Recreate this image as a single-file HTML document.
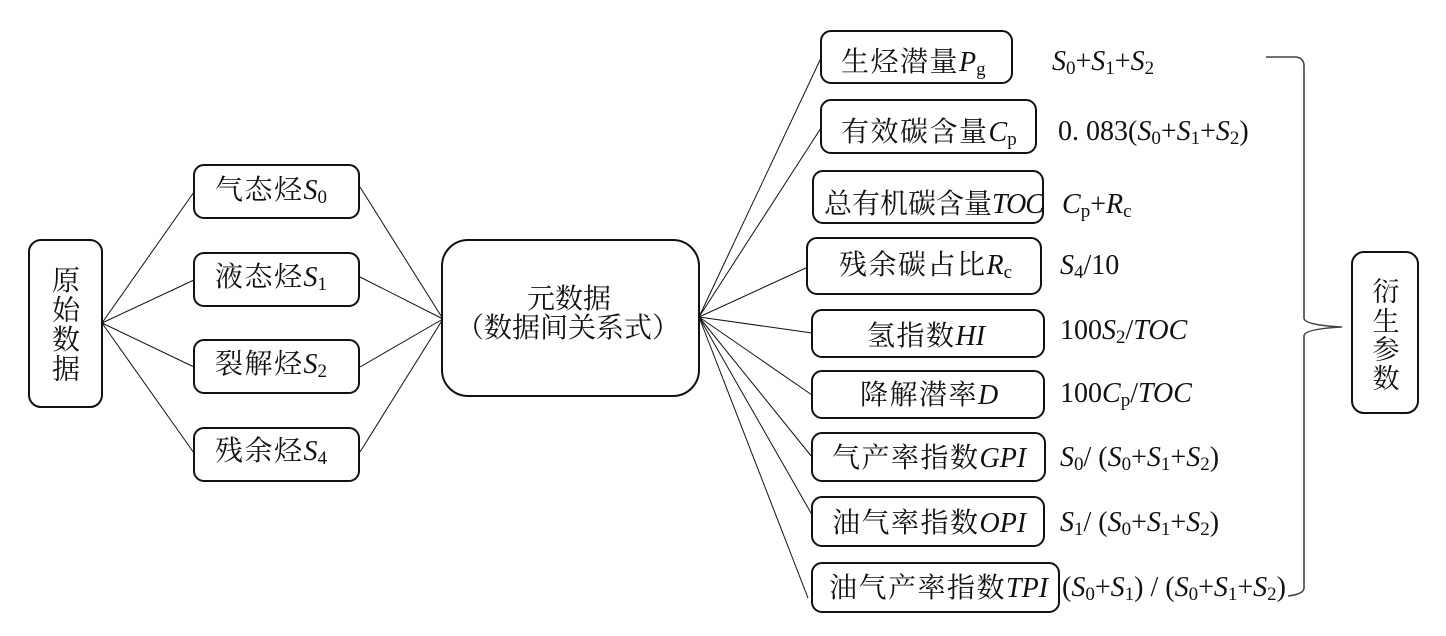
<!DOCTYPE html>
<html><head><meta charset="utf-8"><style>
html,body{margin:0;padding:0;background:#fff;}
svg{display:block;}
.t{font-family:"Liberation Serif","Noto Serif CJK SC",serif;font-size:28px;fill:#111;}
.r{letter-spacing:1.5px;}
.i{font-style:italic;letter-spacing:0;}
.s{font-size:19px;font-style:normal;letter-spacing:0;}
.f{font-family:"Liberation Serif","Noto Serif CJK SC",serif;font-size:28px;fill:#111;}
</style></head><body>
<svg width="1446" height="636" viewBox="0 0 1446 636" xmlns="http://www.w3.org/2000/svg">
<g stroke="#111" stroke-width="1" fill="none">
<line x1="102" y1="323" x2="194" y2="192"/>
<line x1="102" y1="323" x2="194" y2="280"/>
<line x1="102" y1="323" x2="194" y2="367"/>
<line x1="102" y1="323" x2="194" y2="453"/>
<line x1="360" y1="187" x2="443" y2="319"/>
<line x1="360" y1="277" x2="443" y2="319"/>
<line x1="360" y1="367" x2="443" y2="319"/>
<line x1="360" y1="452" x2="443" y2="319"/>
<line x1="699" y1="317" x2="821" y2="58"/>
<line x1="699" y1="317" x2="821" y2="128"/>
<line x1="699" y1="317" x2="808" y2="267"/>
<line x1="699" y1="317" x2="812" y2="333"/>
<line x1="699" y1="317" x2="812" y2="395"/>
<line x1="699" y1="317" x2="812" y2="457"/>
<line x1="699" y1="317" x2="815" y2="520"/>
<line x1="699" y1="317" x2="808" y2="598"/>
</g>
<path d="M1266,57 L1296,57 Q1304,58 1304,66 L1304,318 Q1304,325 1342,327 Q1304,329 1304,336 L1304,588 Q1304,594 1288,596" stroke="#444" stroke-width="1.6" fill="none"/>
<g fill="#fff" stroke="#111" stroke-width="2">
<rect x="29" y="240" width="73" height="167" rx="12"/>
<rect x="194" y="165" width="165" height="53" rx="10"/>
<rect x="194" y="253" width="165" height="53" rx="10"/>
<rect x="194" y="340" width="165" height="53" rx="10"/>
<rect x="194" y="428" width="165" height="53" rx="10"/>
<rect x="442" y="240" width="257" height="156" rx="26"/>
<rect x="821" y="31" width="191" height="52" rx="10"/>
<rect x="821" y="100" width="215" height="53" rx="10"/>
<rect x="813" y="171" width="230" height="52" rx="10"/>
<rect x="807" y="238" width="234" height="56" rx="10"/>
<rect x="812" y="310" width="232" height="47" rx="10"/>
<rect x="812" y="371" width="232" height="47" rx="10"/>
<rect x="812" y="433" width="233" height="48" rx="10"/>
<rect x="812" y="497" width="232" height="49" rx="10"/>
<rect x="812" y="563" width="247" height="49" rx="10"/>
<rect x="1352" y="252" width="66" height="161" rx="12"/>
</g>

<!-- left -->
<text class="t" x="66" y="290" text-anchor="middle">原</text>
<text class="t" x="66" y="319.5" text-anchor="middle">始</text>
<text class="t" x="66" y="349" text-anchor="middle">数</text>
<text class="t" x="66" y="378.5" text-anchor="middle">据</text>

<text class="t r" x="215" y="199">气态烃<tspan class="i">S</tspan><tspan class="s" dy="4">0</tspan></text>
<text class="t r" x="215" y="286">液态烃<tspan class="i">S</tspan><tspan class="s" dy="4">1</tspan></text>
<text class="t r" x="215" y="373">裂解烃<tspan class="i">S</tspan><tspan class="s" dy="4">2</tspan></text>
<text class="t r" x="215" y="460">残余烃<tspan class="i">S</tspan><tspan class="s" dy="4">4</tspan></text>

<text class="t" x="569" y="308" text-anchor="middle">元数据</text>
<text class="t" x="568" y="337" text-anchor="middle">（数据间关系式）</text>

<!-- right boxes -->
<text class="t r" x="841" y="71">生烃潜量<tspan class="i">P</tspan><tspan class="s" dy="4">g</tspan></text>
<text class="t r" x="841" y="141">有效碳含量<tspan class="i">C</tspan><tspan class="s" dy="4">p</tspan></text>
<text class="t" x="824" y="213">总有机碳含量<tspan class="i" style="letter-spacing:-1px">TOC</tspan></text>
<text class="t r" x="839" y="274">残余碳占比<tspan class="i">R</tspan><tspan class="s" dy="4">c</tspan></text>
<text class="t r" x="867" y="345">氢指数<tspan class="i">HI</tspan></text>
<text class="t r" x="860" y="404">降解潜率<tspan class="i">D</tspan></text>
<text class="t r" x="832" y="467">气产率指数<tspan class="i">GPI</tspan></text>
<text class="t r" x="832" y="532">油气率指数<tspan class="i">OPI</tspan></text>
<text class="t r" x="829" y="597">油气产率指数<tspan class="i">TPI</tspan></text>

<!-- formulas -->
<text class="f" x="1052" y="70"><tspan class="i">S</tspan><tspan class="s" dy="4">0</tspan><tspan dy="-4">+</tspan><tspan class="i">S</tspan><tspan class="s" dy="4">1</tspan><tspan dy="-4">+</tspan><tspan class="i">S</tspan><tspan class="s" dy="4">2</tspan></text>
<text class="f" x="1058" y="140">0. 083(<tspan class="i">S</tspan><tspan class="s" dy="4">0</tspan><tspan dy="-4">+</tspan><tspan class="i">S</tspan><tspan class="s" dy="4">1</tspan><tspan dy="-4">+</tspan><tspan class="i">S</tspan><tspan class="s" dy="4">2</tspan><tspan dy="-4">)</tspan></text>
<text class="f" x="1062" y="213"><tspan class="i">C</tspan><tspan class="s" dy="4">p</tspan><tspan dy="-4">+</tspan><tspan class="i">R</tspan><tspan class="s" dy="4">c</tspan></text>
<text class="f" x="1060" y="274"><tspan class="i">S</tspan><tspan class="s" dy="4">4</tspan><tspan dy="-4">/10</tspan></text>
<text class="f" x="1060" y="339">100<tspan class="i">S</tspan><tspan class="s" dy="4">2</tspan><tspan dy="-4">/</tspan><tspan class="i">TOC</tspan></text>
<text class="f" x="1060" y="402">100<tspan class="i">C</tspan><tspan class="s" dy="4">p</tspan><tspan dy="-4">/</tspan><tspan class="i">TOC</tspan></text>
<text class="f" x="1060" y="466"><tspan class="i">S</tspan><tspan class="s" dy="4">0</tspan><tspan dy="-4">/ (</tspan><tspan class="i">S</tspan><tspan class="s" dy="4">0</tspan><tspan dy="-4">+</tspan><tspan class="i">S</tspan><tspan class="s" dy="4">1</tspan><tspan dy="-4">+</tspan><tspan class="i">S</tspan><tspan class="s" dy="4">2</tspan><tspan dy="-4">)</tspan></text>
<text class="f" x="1060" y="531"><tspan class="i">S</tspan><tspan class="s" dy="4">1</tspan><tspan dy="-4">/ (</tspan><tspan class="i">S</tspan><tspan class="s" dy="4">0</tspan><tspan dy="-4">+</tspan><tspan class="i">S</tspan><tspan class="s" dy="4">1</tspan><tspan dy="-4">+</tspan><tspan class="i">S</tspan><tspan class="s" dy="4">2</tspan><tspan dy="-4">)</tspan></text>
<text class="f" x="1062" y="596">(<tspan class="i">S</tspan><tspan class="s" dy="4">0</tspan><tspan dy="-4">+</tspan><tspan class="i">S</tspan><tspan class="s" dy="4">1</tspan><tspan dy="-4">) / (</tspan><tspan class="i">S</tspan><tspan class="s" dy="4">0</tspan><tspan dy="-4">+</tspan><tspan class="i">S</tspan><tspan class="s" dy="4">1</tspan><tspan dy="-4">+</tspan><tspan class="i">S</tspan><tspan class="s" dy="4">2</tspan><tspan dy="-4">)</tspan></text>

<!-- derived -->
<text class="t" x="1386" y="301" text-anchor="middle" style="font-size:27px">衍</text>
<text class="t" x="1386" y="331" text-anchor="middle" style="font-size:27px">生</text>
<text class="t" x="1386" y="359" text-anchor="middle" style="font-size:27px">参</text>
<text class="t" x="1386" y="388" text-anchor="middle" style="font-size:27px">数</text>
</svg>
</body></html>
